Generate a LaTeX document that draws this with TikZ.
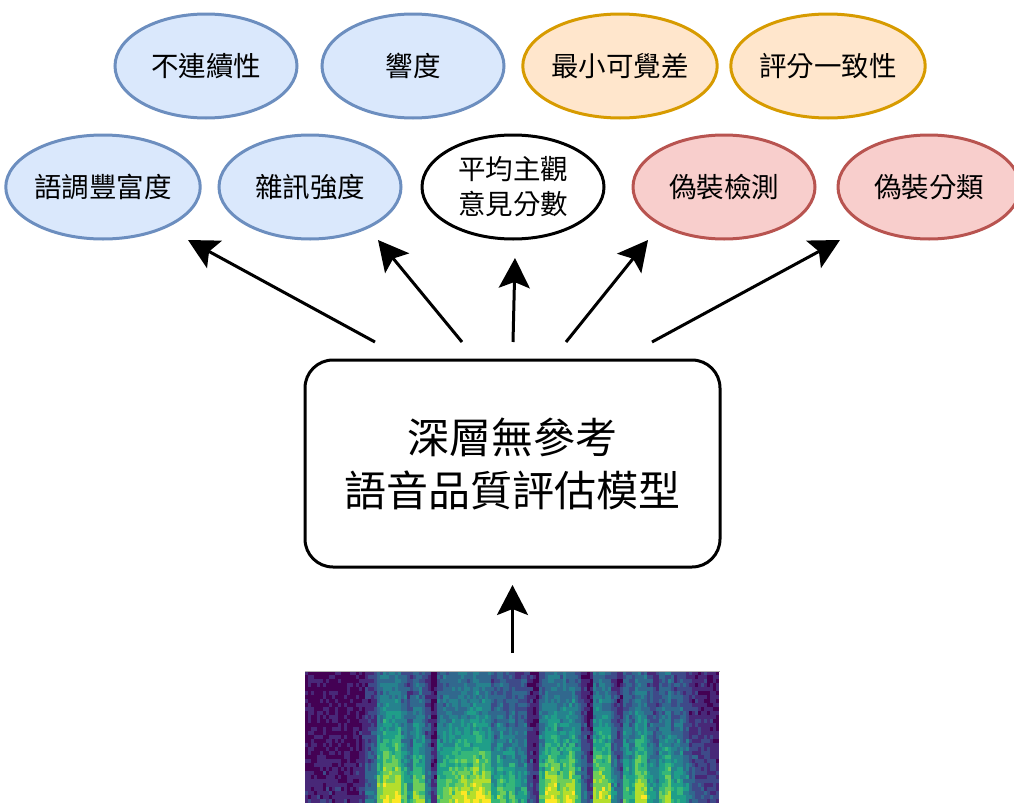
\documentclass[tikz,border=0pt]{standalone}
\usepackage{fontspec}
\setmainfont{Noto Sans CJK TC}
\usetikzlibrary{shapes.geometric,arrows.meta}
\definecolor{bluefill}{HTML}{DAE8FC}\definecolor{bluedraw}{HTML}{6C8EBF}
\definecolor{orfill}{HTML}{FFE6CC}\definecolor{ordraw}{HTML}{D79B00}
\definecolor{redfill}{HTML}{F8CECC}\definecolor{reddraw}{HTML}{B85450}
\definecolor{vir0}{HTML}{440154}\definecolor{vir1}{HTML}{482878}
\definecolor{vir2}{HTML}{3E4A89}\definecolor{vir3}{HTML}{31688E}
\definecolor{vir4}{HTML}{26828E}\definecolor{vir5}{HTML}{1F9E89}
\definecolor{vir6}{HTML}{35B779}\definecolor{vir7}{HTML}{6DCD59}
\definecolor{vir8}{HTML}{B4DE2C}\definecolor{vir9}{HTML}{FDE725}
\begin{document}
\begin{tikzpicture}[x=1pt,y=-1pt,
  ell/.style={ellipse,line width=3pt,minimum width=182pt,minimum height=104pt,inner sep=0pt,outer sep=0pt,font=\fontsize{27.5}{35}\selectfont,align=center},
  blueell/.style={ell,draw=bluedraw,fill=bluefill},
  orell/.style={ell,draw=ordraw,fill=orfill},
  redell/.style={ell,draw=reddraw,fill=redfill},
  blackell/.style={ell,draw=black,fill=white},
  arr/.style={line width=3pt,-{Stealth[length=30pt,width=31pt,inset=6pt]}},
  model/.style={draw,line width=3pt,rounded corners=28pt,minimum width=415pt,minimum height=207pt,align=center,font=\fontsize{42}{53}\selectfont,outer sep=0pt}]
\useasboundingbox (0,0) rectangle (1014,803);
% top row
\node[blueell] (t1) at (206,66) {不連續性};
\node[blueell] (t2) at (413,66) {響度};
\node[orell] (t3) at (620,66) {最小可覺差};
\node[orell] (t4) at (828,66) {評分一致性};
% second row
\node[blueell] (r1) at (103,187) {語調豐富度};
\node[blueell] (r2) at (310,187) {雜訊強度};
\node[blackell] (r3) at (513,187) {平均主觀\\意見分數};
\node[redell] (r4) at (724,187) {偽裝檢測};
\node[redell] (r5) at (929,187) {偽裝分類};
% model
\node[model] (box) at (512.5,463.5) {深層無參考\\語音品質評估模型};
% spectrogram
\node[minimum width=415pt,minimum height=132pt,inner sep=0pt,outer sep=0pt] (spec) at (512.5,737) {};
\begin{scope}
\clip (305,671) rectangle (720,803);
\pgfmathsetseed{7}
\foreach \c in {0,...,137}{
  \pgfmathsetmacro\E{{0.14,0.15,0.14,0.15,0.14,0.15,0.14,0.15,0.15,0.2,0.36,0.42,0.8,0.95,0.9,0.95,0.7,0.55,0.8,0.75,0.45,0.18,0.7,0.75,0.8,0.85,0.9,0.85,0.95,0.9,0.85,0.6,0.75,0.65,0.7,0.55,0.6,0.3,0.18,0.7,0.9,0.95,0.8,0.85,0.9,0.7,0.4,0.22,0.85,0.9,0.85,0.5,0.35,0.7,0.65,0.9,0.85,0.6,0.5,0.7,0.8,0.6,0.65,0.5,0.35,0.3,0.28,0.25,0.22}[int(\c/2)]}
  \foreach \r in {0,...,32}{
    \pgfmathsetmacro\v{\E*(0.42+0.6*((\r+1)/33)^1.6)+0.17*(rnd-0.5)}
    \pgfmathtruncatemacro\k{max(0,min(9,\v*10))}
    \fill[vir\k] (305+3*\c,671+4*\r) rectangle ++(3.4,4.4);
  }
}
\end{scope}
\draw[gray!60,line width=1pt] (spec.north west) -- (spec.north east);
% arrows
\draw[arr] ([shift={(-137.5pt,18pt)}]box.north) -- ([shift={(85pt,-1pt)}]r1.south);
\draw[arr] ([shift={(-50.5pt,18pt)}]box.north) -- ([shift={(68pt,-1pt)}]r2.south);
\draw[arr] ([shift={(0.5pt,18pt)}]box.north) -- ([shift={(2pt,-19pt)}]r3.south);
\draw[arr] ([shift={(53.5pt,18pt)}]box.north) -- ([shift={(-76pt,-1pt)}]r4.south);
\draw[arr] ([shift={(139.5pt,18pt)}]box.north) -- ([shift={(-89pt,-1pt)}]r5.south);
\draw[arr] ([yshift=18pt]spec.north) -- ([yshift=-18pt]box.south);
\end{tikzpicture}
\end{document}
